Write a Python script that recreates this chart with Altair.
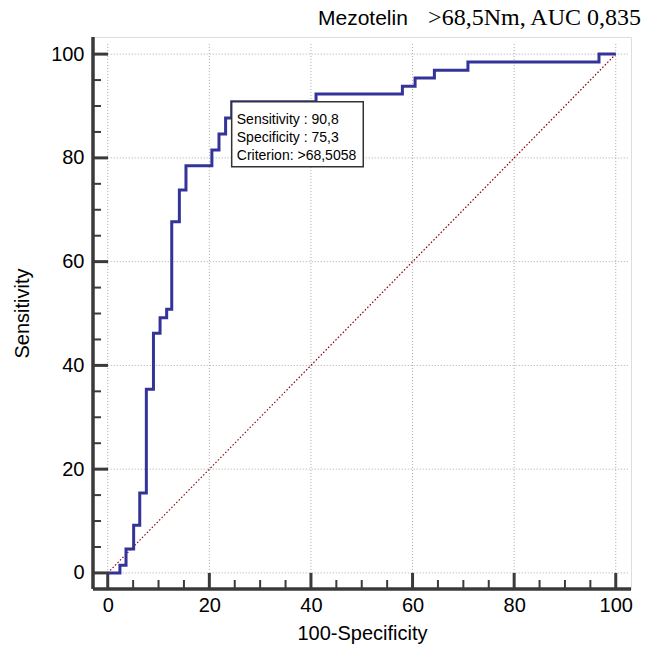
import altair as alt
import pandas as pd

# ---- data ----
fpr = [0, 2.4, 3.6, 5.1, 6.3, 7.6, 9.0, 10.3, 11.6, 12.6, 14.1, 15.4, 20.5, 21.9, 23.2,
       24.4, 41.0, 58.0, 60.5, 64.3, 70.9, 96.7, 100]
tpr = [0, 1.5, 4.6, 9.2, 15.4, 35.4, 46.2, 49.2, 50.8, 67.7, 73.8, 78.5, 81.5, 84.6, 87.7,
       90.8, 92.3, 93.8, 95.4, 96.9, 98.5, 100, 100]
major_ticks = [0, 20, 40, 60, 80, 100]
minor_ticks = [5, 10, 15, 25, 30, 35, 45, 50, 55, 65, 70, 75, 85, 90, 95]
diag = [0, 100]
title_left = "Mezotelin"
title_right = ">68,5Nm, AUC 0,835"
box_x = [24.4, 50.3]
box_y = [90.8, 78.3]
box_lines = ["Sensitivity : 90,8", "Specificity : 75,3", "Criterion: >68,5058"]
box_line_y = [86.6, 83.0, 79.6]
box_text_x = 25.4

X_DOM = [-2.9, 103.0]
Y_DOM = [-3.1, 103.3]
W, H = 538, 552
FONT = "Liberation Sans"
AX = "#3a3a3a"

xs = alt.Scale(domain=X_DOM, nice=False, zero=False)
ys = alt.Scale(domain=Y_DOM, nice=False, zero=False)

roc = pd.DataFrame({"x": fpr, "y": tpr, "i": range(len(fpr))})
dg = pd.DataFrame({"x": diag, "y": diag})
maj = pd.DataFrame({"v": major_ticks})
mnr = pd.DataFrame({"v": minor_ticks})

# gridlines
hgrid = alt.Chart(maj).mark_rule(color="#a8a8a8", strokeDash=[1, 2], strokeWidth=1).encode(
    y=alt.Y("v:Q", scale=ys), x=alt.datum(0, scale=xs), x2=alt.value(W - 3))
vgrid = alt.Chart(maj).mark_rule(color="#a8a8a8", strokeDash=[1, 2], strokeWidth=1).encode(
    x=alt.X("v:Q", scale=xs), y=alt.datum(0, scale=ys), y2=alt.value(5))

# diagonal
diag_line = alt.Chart(dg).mark_line(color="#8b0000", strokeDash=[1.5, 2], strokeWidth=1.2).encode(
    x=alt.X("x:Q", scale=xs), y=alt.Y("y:Q", scale=ys))

# ROC curve
curve = alt.Chart(roc).mark_line(color="#333399", strokeWidth=3, interpolate="step-after").encode(
    x=alt.X("x:Q", scale=xs,
            axis=alt.Axis(values=major_ticks, format="d", ticks=False, tickSize=0, domain=False,
                          grid=False, labelFontSize=20, labelFont=FONT, labelColor="black",
                          labelPadding=6, labelFlush=False, labelOverlap=False,
                          title="100-Specificity", titleFont=FONT, titleFontSize=20,
                          titleFontWeight="normal", titleColor="black",
                          titleX=W / 2, titleY=44, titleBaseline="middle", titleAlign="center")),
    y=alt.Y("y:Q", scale=ys,
            axis=alt.Axis(values=major_ticks, format="d", ticks=False, tickSize=0, domain=False,
                          grid=False, labelFontSize=20, labelFont=FONT, labelColor="black",
                          labelPadding=9, labelFlush=False, labelOverlap=False,
                          title="Sensitivity", titleFont=FONT, titleFontSize=20,
                          titleFontWeight="normal", titleColor="black", titleAngle=270,
                          titleX=-71, titleY=H / 2, titleBaseline="middle", titleAlign="center")),
    order="i:Q")

# annotation box
bx = pd.DataFrame({"x": [box_x[0]], "x2": [box_x[1]], "y": [box_y[0]], "y2": [box_y[1]]})
box = alt.Chart(bx).mark_rect(fill="white", stroke="#333333", strokeWidth=1.5).encode(
    x=alt.X("x:Q", scale=xs), x2="x2:Q", y=alt.Y("y:Q", scale=ys), y2="y2:Q")
bt = pd.DataFrame({"t": box_lines, "y": box_line_y, "x": [box_text_x] * 3})
box_text = alt.Chart(bt).mark_text(align="left", baseline="alphabetic", font=FONT, fontSize=14,
                                   color="black").encode(
    x=alt.X("x:Q", scale=xs), y=alt.Y("y:Q", scale=ys), text="t:N")

# axis lines and inward ticks
left_line = alt.Chart(maj.head(1)).mark_rule(color=AX, strokeWidth=3.5).encode(
    x=alt.value(0), y=alt.value(0), y2=alt.value(H))
bottom_line = alt.Chart(maj.head(1)).mark_rule(color=AX, strokeWidth=3.5).encode(
    y=alt.value(H), x=alt.value(0), x2=alt.value(W))
y_major = alt.Chart(maj).mark_rule(color=AX, strokeWidth=3).encode(
    y=alt.Y("v:Q", scale=ys), x=alt.value(0), x2=alt.value(15))
y_minor = alt.Chart(mnr).mark_rule(color=AX, strokeWidth=2).encode(
    y=alt.Y("v:Q", scale=ys), x=alt.value(0), x2=alt.value(8))
x_major = alt.Chart(maj).mark_rule(color=AX, strokeWidth=3).encode(
    x=alt.X("v:Q", scale=xs), y=alt.value(H), y2=alt.value(H - 16))
x_minor = alt.Chart(mnr).mark_rule(color=AX, strokeWidth=2).encode(
    x=alt.X("v:Q", scale=xs), y=alt.value(H), y2=alt.value(H - 9))

# title
tl = alt.Chart(pd.DataFrame({"t": [title_left]})).mark_text(
    align="left", baseline="alphabetic", font=FONT, fontSize=21, color="black").encode(
    x=alt.value(225), y=alt.value(-12), text="t:N")
tr = alt.Chart(pd.DataFrame({"t": [title_right]})).mark_text(
    align="right", baseline="alphabetic", font="Liberation Serif", fontSize=24, color="black").encode(
    x=alt.value(548), y=alt.value(-12), text="t:N")

chart = alt.layer(
    hgrid, vgrid, diag_line, curve, box, box_text,
    left_line, bottom_line, y_major, y_minor, x_major, x_minor, tl, tr
).resolve_scale(x="shared", y="shared").properties(
    width=W, height=H,
    autosize=alt.AutoSizeParams(type="none"),
    padding={"left": 93, "top": 37, "right": 19, "bottom": 65},
).configure_view(stroke=None).configure(background="white")

chart.save("out.html", embed_options={"renderer": "svg", "actions": False})
